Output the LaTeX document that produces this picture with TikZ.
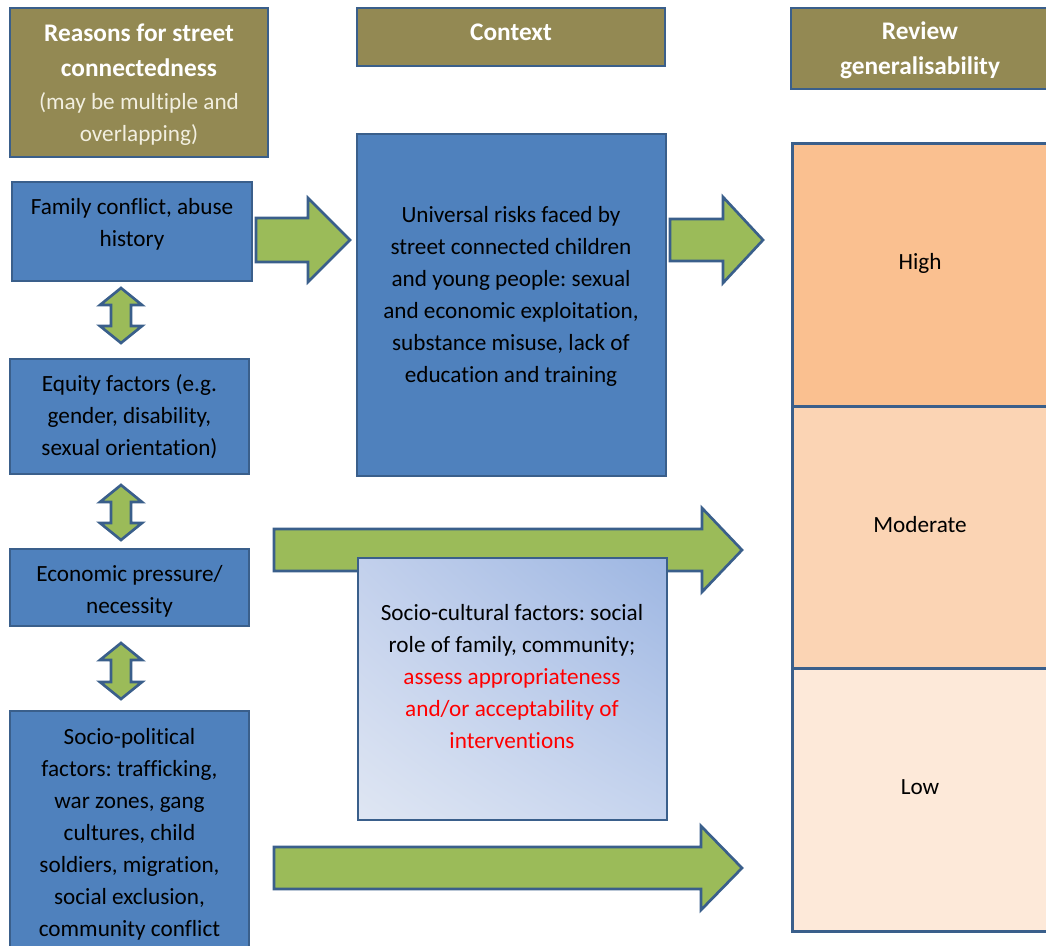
\documentclass[tikz,border=0pt]{standalone}
\usepackage{fontspec}
\setmainfont{Carlito}[Ligatures=NoCommon]
\usetikzlibrary{shadings}
\frenchspacing
\begin{document}
\definecolor{olivehd}{HTML}{938953}
\definecolor{edgeblue}{HTML}{3A5F8B}
\definecolor{boxblue}{HTML}{4F81BD}
\definecolor{arrowgreen}{HTML}{9BBB59}
\definecolor{subcream}{HTML}{F2EFE0}
\definecolor{peachhigh}{HTML}{FAC090}
\definecolor{peachmod}{HTML}{FBD4B4}
\definecolor{peachlow}{HTML}{FDE9D9}
\definecolor{alertred}{HTML}{FF0000}
\definecolor{shadell}{HTML}{DFE6F3}
\definecolor{shadeur}{HTML}{9DB6E2}
\definecolor{shadeul}{HTML}{C2D0EC}
\definecolor{shadelr}{HTML}{C6D4EE}
\tikzset{
  box/.style={draw=edgeblue, line width=2pt, rectangle, inner sep=0pt},
  size/.style 2 args={minimum width=#1*0.75pt, minimum height=#2*0.75pt},
  header/.style={box, fill=olivehd},
  bluebox/.style={box, fill=boxblue},
  txt/.style={align=center, inner sep=0pt, font=\fontsize{17.4}{24}\selectfont},
  hdtxt/.style={txt, text=white, font=\fontsize{19}{26}\selectfont\bfseries},
  arrowshape/.style={draw=edgeblue, line width=2pt, fill=arrowgreen, line join=miter}
}
% right-pointing block arrow: start x, head base x, tip x, centre y, shaft half-height, head half-height
\newcommand\blockright[6]{%
  \draw[arrowshape] (#1,#4-#5) -- (#2,#4-#5) -- (#2,#4-#6) -- (#3,#4)
    -- (#2,#4+#6) -- (#2,#4+#5) -- (#1,#4+#5) -- cycle;}
% vertical double-headed block arrow: centre x, top tip y, bottom tip y
\newcommand\blockupdown[3]{%
  \draw[arrowshape] (#1,#2) -- (#1+21,#2+17) -- (#1+10,#2+17) -- (#1+10,#3-17)
    -- (#1+21,#3-17) -- (#1,#3) -- (#1-21,#3-17) -- (#1-10,#3-17)
    -- (#1-10,#2+17) -- (#1-21,#2+17) -- cycle;}
\begin{tikzpicture}[x=0.75pt, y=-0.75pt]
\clip (0,0) rectangle (1046,946);
\fill[white] (0,0) rectangle (1046,946);

% column headers
\node[header, size={258}{149}] (hreasons) at (139,82.5) {};
\node[hdtxt] (treasons) at (139,50.5) {Reasons for street\\connectedness};
\node[txt, text=subcream] (tsub) at (139,119) {(may be multiple and\\overlapping)};
\node[header, size={308}{58}] (hcontext) at (511,37) {};
\node[hdtxt] (tcontext) at (511,32) {Context};
\node[header, size={258}{81}] (hreview) at (920,48.5) {};
\node[hdtxt] (treview) at (920,50.5) {Review\\generalisability};

% reasons column
\node[bluebox, size={240}{99}] (family) at (132,231.5) {};
\node[txt] (tfamily) at (132,224) {Family conflict, abuse\\history};
\node[bluebox, size={239}{115}] (equity) at (129.5,416.5) {};
\node[txt] (tequity) at (129.5,417) {Equity factors (e.g.\\gender, disability,\\sexual orientation)};
\node[bluebox, size={239}{77}] (economic) at (129.5,587.5) {};
\node[txt] (teconomic) at (129.5,591) {Economic pressure/\\necessity};
\node[bluebox, size={239}{240}] (political) at (129.5,831) {};
\node[txt] (tpolitical) at (129.5,834) {Socio-political\\factors: trafficking,\\war zones, gang\\cultures, child\\soldiers, migration,\\social exclusion,\\community conflict};

% links between the reasons
\blockupdown{121}{288}{343}
\blockupdown{121}{485}{540}
\blockupdown{121}{643}{699}

% arrows towards context and generalisability
\blockright{256}{308}{350}{240}{22}{42}
\blockright{670}{723}{763}{240}{21}{43}
\blockright{274}{702}{742}{550}{21}{42}
\blockright{274}{701}{742}{868}{21}{42}

% context column
\node[bluebox, size={309}{342}] (risks) at (511.5,305) {};
\node[txt] (trisks) at (511,296) {Universal risks faced by\\street connected children\\and young people: sexual\\and economic exploitation,\\substance misuse, lack of\\education and training};
\node[box, size={309}{262},
      lower left=shadell, upper right=shadeur,
      upper left=shadeul, lower right=shadelr] (cultural) at (512.5,689) {};
\node[txt] (tcultural) at (512,677) {Socio-cultural factors: social\\role of family, community;\\\textcolor{alertred}{assess appropriateness}\\\textcolor{alertred}{and/or acceptability of}\\\textcolor{alertred}{interventions}};

% generalisability scale
\node[box, fill=peachhigh, size={258}{263}, anchor=north west] (high) at (791,142) {};
\node[box, fill=peachmod, size={258}{262}, anchor=north west] (moderate) at (791,405) {};
\node[box, fill=peachlow, size={258}{263}, anchor=north west] (low) at (791,667) {};
\node[txt] (thigh) at (920,263) {High};
\node[txt] (tmoderate) at (920,525) {Moderate};
\node[txt] (tlow) at (920,787) {Low};
\end{tikzpicture}
\end{document}
